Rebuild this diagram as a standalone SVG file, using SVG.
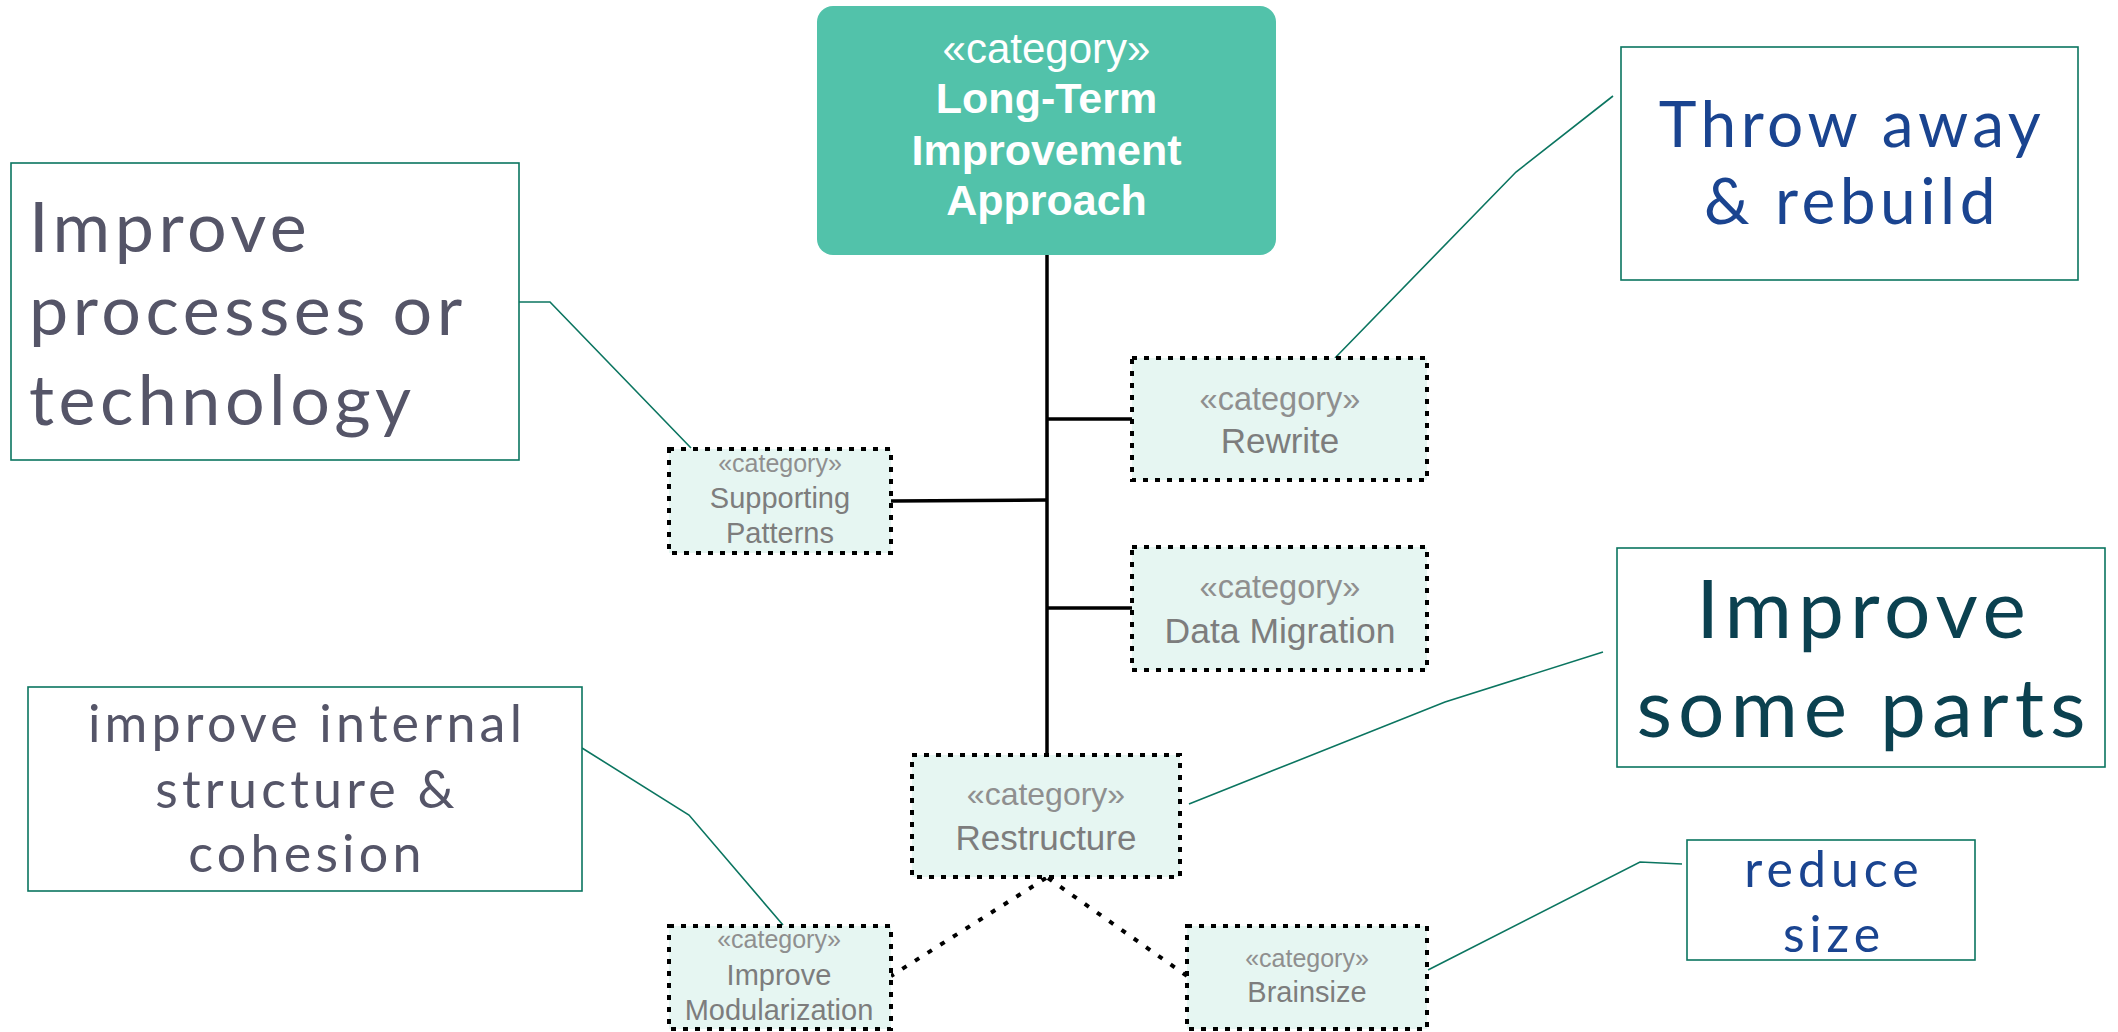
<svg xmlns="http://www.w3.org/2000/svg" width="2118" height="1032" viewBox="0 0 2118 1032">
<style>
.cat{fill:#e6f6f2;stroke:#000;stroke-width:4;stroke-dasharray:5 7}
.st{font-family:"Liberation Sans",Arial,sans-serif;fill:#8f8f8f;text-anchor:middle}
.nm{font-family:"Liberation Sans",Arial,sans-serif;fill:#7d7d7d;text-anchor:middle}
.note{fill:#fff;stroke:#0b7560;stroke-width:1.6}
.nl{fill:none;stroke:#0b7560;stroke-width:1.6}
.ct{font-family:Lato,"Noto Sans",sans-serif}
.solid{fill:none;stroke:#000;stroke-width:3.5}
.dot{fill:none;stroke:#000;stroke-width:4;stroke-dasharray:5 10}
</style>
<g id="connectors">
<path class="solid" d="M1047 255 V755"/>
<path class="solid" d="M1047 419 H1132"/>
<path class="solid" d="M1047 608 H1132"/>
<path class="solid" d="M891 501 L1047 500"/>
<path class="dot" d="M1046 878 L891 976"/>
<path class="dot" d="M1048 878 L1187 976"/>
<path class="nl" d="M519 302 H550 L691 448"/>
<path class="nl" d="M1335 358 L1516 172 L1613 96"/>
<path class="nl" d="M1189 804 L1445 702 L1603 652"/>
<path class="nl" d="M582 748 L689 815 L783 925"/>
<path class="nl" d="M1428 970 L1640 862 L1682 864"/>
</g>
<g id="long-term">
<rect x="817" y="6" width="459" height="249" rx="16" fill="#52c2aa"/>
<text x="1046.5" y="63" font-family="Liberation Sans,Arial,sans-serif" font-size="42" fill="#fff" text-anchor="middle">«category»</text>
<text x="1046.5" y="113" font-family="Liberation Sans,Arial,sans-serif" font-size="43" font-weight="bold" fill="#fff" text-anchor="middle">Long-Term</text>
<text x="1046.5" y="165" font-family="Liberation Sans,Arial,sans-serif" font-size="43" font-weight="bold" fill="#fff" text-anchor="middle">Improvement</text>
<text x="1046.5" y="215" font-family="Liberation Sans,Arial,sans-serif" font-size="43" font-weight="bold" fill="#fff" text-anchor="middle">Approach</text>
</g>
<g id="rewrite">
<rect class="cat" x="1132" y="358" width="295" height="122"/>
<text class="st" x="1280" y="410" font-size="32.5">«category»</text>
<text class="nm" x="1280" y="453" font-size="35">Rewrite</text>
</g>
<g id="data-migration">
<rect class="cat" x="1132" y="547" width="295" height="123"/>
<text class="st" x="1280" y="598" font-size="32.5">«category»</text>
<text class="nm" x="1280" y="643" font-size="35.5">Data Migration</text>
</g>
<g id="supporting-patterns">
<rect class="cat" x="669" y="449" width="222" height="104"/>
<text class="st" x="780" y="472" font-size="25">«category»</text>
<text class="nm" x="780" y="508" font-size="29">Supporting</text>
<text class="nm" x="780" y="543" font-size="29">Patterns</text>
</g>
<g id="restructure">
<rect class="cat" x="912" y="755" width="268" height="122"/>
<text class="st" x="1046" y="805" font-size="32">«category»</text>
<text class="nm" x="1046" y="850" font-size="35">Restructure</text>
</g>
<g id="improve-modularization">
<rect class="cat" x="669" y="926" width="222" height="103"/>
<text class="st" x="779" y="948" font-size="25">«category»</text>
<text class="nm" x="779" y="985" font-size="29">Improve</text>
<text class="nm" x="779" y="1020" font-size="29">Modularization</text>
</g>
<g id="brainsize">
<rect class="cat" x="1187" y="926" width="240" height="103"/>
<text class="st" x="1307" y="967" font-size="25">«category»</text>
<text class="nm" x="1307" y="1002" font-size="29">Brainsize</text>
</g>
<g id="note-processes">
<rect class="note" x="11" y="163" width="508" height="297"/>
<g class="ct" font-size="70" fill="#555568" letter-spacing="4.5">
<text x="29" y="252">Improve</text>
<text x="29" y="335">processes or</text>
<text x="29" y="425">technology</text>
</g>
</g>
<g id="note-throw">
<rect class="note" x="1621" y="47" width="457" height="233"/>
<g class="ct" font-size="64" fill="#1a4490" text-anchor="middle" letter-spacing="4.5">
<text x="1852" y="147">Throw away</text>
<text x="1852" y="224">&amp; rebuild</text>
</g>
</g>
<g id="note-some-parts">
<rect class="note" x="1617" y="548" width="488" height="219"/>
<g class="ct" font-size="82" fill="#0b4150" text-anchor="middle" letter-spacing="6">
<text x="1864" y="638">Improve</text>
<text x="1864" y="737">some parts</text>
</g>
</g>
<g id="note-internal">
<rect class="note" x="28" y="687" width="554" height="204"/>
<g class="ct" font-size="52" fill="#555568" text-anchor="middle" letter-spacing="4.2">
<text x="307" y="742">improve internal</text>
<text x="307" y="808">structure &amp;</text>
<text x="307" y="872">cohesion</text>
</g>
</g>
<g id="note-reduce">
<rect class="note" x="1687" y="840" width="288" height="120"/>
<g class="ct" font-size="50" fill="#1a4490" text-anchor="middle" letter-spacing="5">
<text x="1834" y="887">reduce</text>
<text x="1834" y="952">size</text>
</g>
</g>
</svg>
